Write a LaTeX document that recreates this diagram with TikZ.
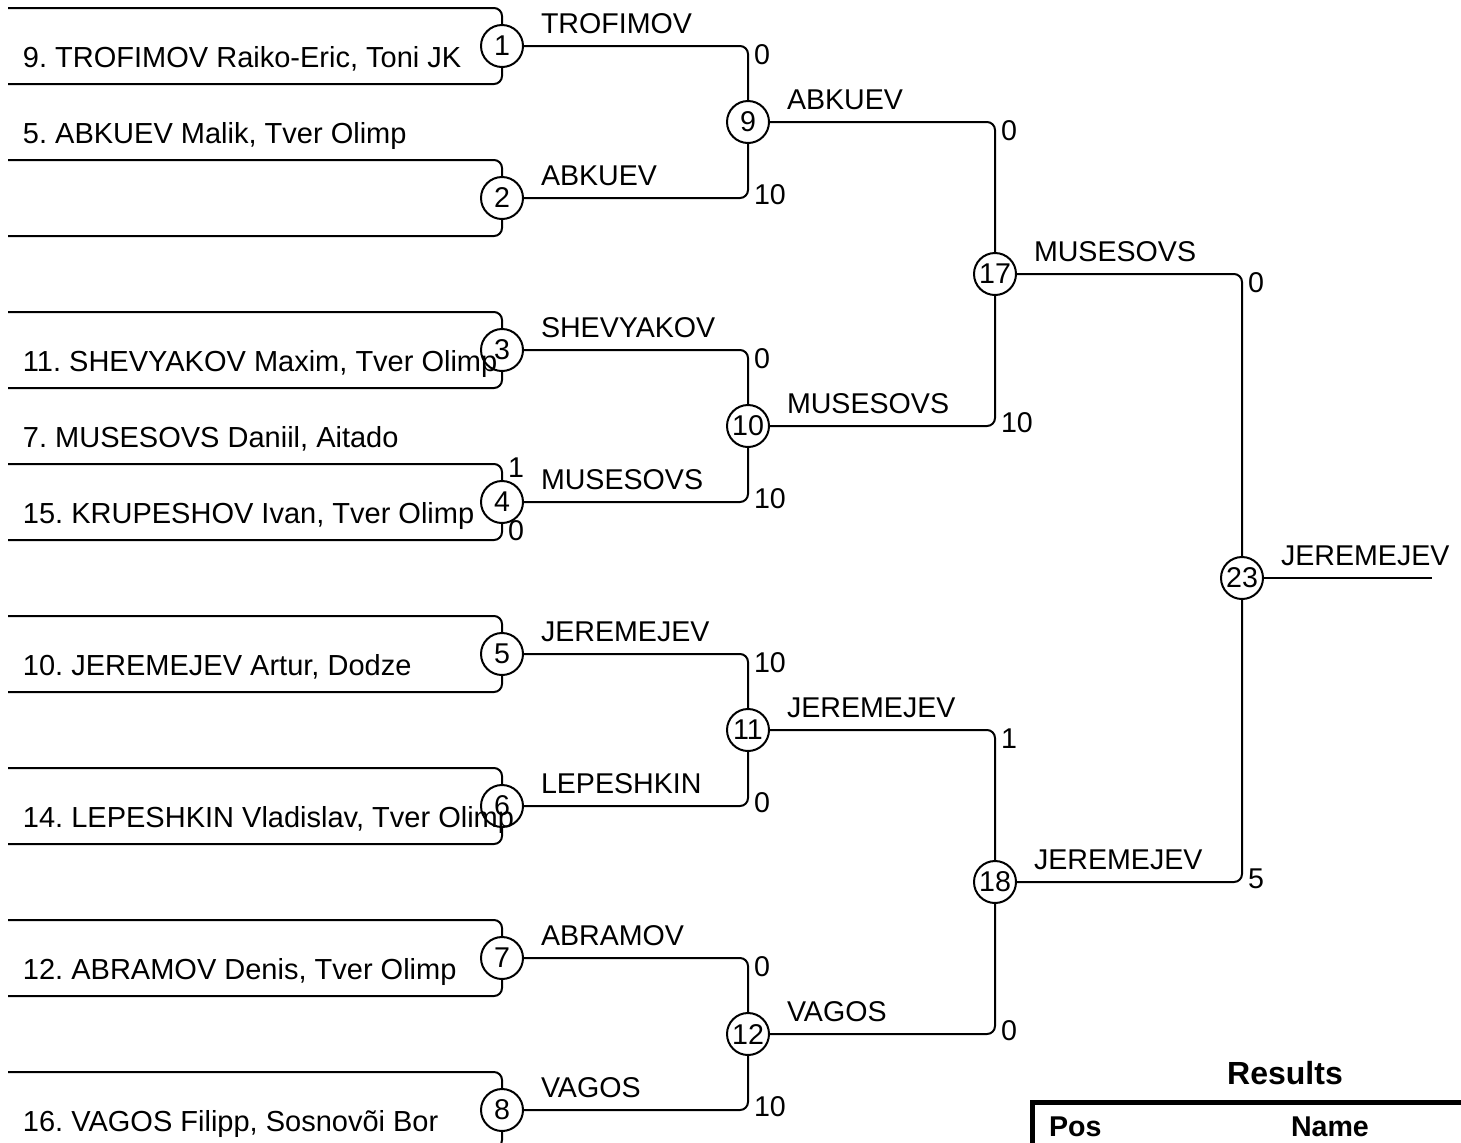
\documentclass[tikz,border=0pt]{standalone}
\usepackage{fontspec}
\setmainfont{Liberation Sans}
\frenchspacing
\usetikzlibrary{positioning,calc}

\begin{document}
\begin{tikzpicture}[x=0.5pt, y=-0.5pt, line width=1pt]
        \tikzset{
            match/.style={draw, circle, minimum size=21pt, inner sep=0pt, line width=1pt, font=\fontsize{14.3}{16}\selectfont},
            player/.style={anchor=base west, inner sep=0pt, font=\fontsize{14.5}{16}\selectfont},
            winner/.style={anchor=south west, inner sep=0pt, font=\fontsize{14.3}{16}\selectfont},
            score/.style={anchor=west, inner sep=0pt, font=\fontsize{14.3}{16}\selectfont},
            bracket/.style={line width=1pt, rounded corners=4pt},
            title/.style={inner sep=0pt, font=\bfseries\fontsize{16}{19}\selectfont},
            header/.style={anchor=west, inner sep=0pt, font=\bfseries\fontsize{14.3}{16}\selectfont}
        }

        \useasboundingbox (0,0) rectangle (1461,1142);
        \clip (0,0) rectangle (1461,1142);

        % First round
        \foreach \i in {1,...,8}{
            \pgfmathsetmacro\yc{46+152*(\i-1)}
            \node [match] (m\i) at (502,\yc) {\i};
            \coordinate (t\i) at (8,\yc-38);
            \coordinate (b\i) at (8,\yc+38);
            \draw [bracket] (t\i) -| (m\i);
            \draw [bracket] (b\i) -| (m\i);
        }

        % Later rounds
        \node [match] (m9) at (748,122) {9};
        \node [match] (m10) at (748,426) {10};
        \node [match] (m11) at (748,730) {11};
        \node [match] (m12) at (748,1034) {12};
        \node [match] (m17) at (995,274) {17};
        \node [match] (m18) at (995,882) {18};
        \node [match] (m23) at (1242,578) {23};
        \coordinate (champ) at (1432,578);

        % Connections and scores
        \foreach \src/\dst/\val/\dy in {m1/m9/0/9, m2/m9/10/-3, m3/m10/0/9, m4/m10/10/-3,
                m5/m11/10/9, m6/m11/0/-3, m7/m12/0/9, m8/m12/10/-3,
                m9/m17/0/9, m10/m17/10/-3, m11/m18/1/9, m12/m18/0/-3,
                m17/m23/0/9, m18/m23/5/-3}{
            \draw [bracket] (\src) -| (\dst);
            \node [score] (s\src) at ($(\dst|-\src)+(5,\dy)$) {\val};
        }
        \draw (m23) -- (champ);

        % Entries
        \node [player] (pTrofimov) at (22,67) {9. TROFIMOV Raiko-Eric, Toni JK};
        \node [player] (pAbkuev) at (22,143) {5. ABKUEV Malik, Tver Olimp};
        \node [player] (pShevyakov) at (22,371) {11. SHEVYAKOV Maxim, Tver Olimp};
        \node [player] (pMusesovs) at (22,447) {7. MUSESOVS Daniil, Aitado};
        \node [player] (pKrupeshov) at (22,523) {15. KRUPESHOV Ivan, Tver Olimp};
        \node [player] (pJeremejev) at (22,675) {10. JEREMEJEV Artur, Dodze};
        \node [player] (pLepeshkin) at (22,827) {14. LEPESHKIN Vladislav, Tver Olimp};
        \node [player] (pAbramov) at (22,979) {12. ABRAMOV Denis, Tver Olimp};
        \node [player] (pVagos) at (22,1131) {16. VAGOS Filipp, Sosnovõi Bor};
        \node [score] (sTop4) at (507,468) {1};
        \node [score] (sBot4) at (507,531) {0};

        % Winners
        \foreach \m/\txt in {m1/TROFIMOV, m2/ABKUEV, m3/SHEVYAKOV, m4/MUSESOVS,
                m5/JEREMEJEV, m6/LEPESHKIN, m7/ABRAMOV, m8/VAGOS,
                m9/ABKUEV, m10/MUSESOVS, m11/JEREMEJEV, m12/VAGOS,
                m17/MUSESOVS, m18/JEREMEJEV, m23/JEREMEJEV}{
            \node [winner] (w\m) at ([shift={(38,-11)}]\m) {\txt};
        }

        % Results table
        \node [title] (results) at (1285,1073) {Results};
        \coordinate (tabR) at (1470,1102.5);
        \coordinate (tabC) at (1032.5,1102.5);
        \coordinate (tabB) at (1032.5,1160);
        \draw [line width=2.5pt] (tabR) -- (tabC) -- (tabB);
        \node [header] (pos) at (1048,1127) {Pos};
        \node [header] (name) at (1290,1127) {Name};
    \end{tikzpicture}
\end{document}
